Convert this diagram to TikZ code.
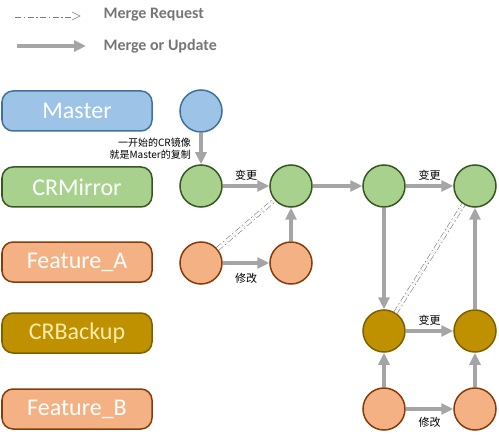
\documentclass[tikz,border=0pt]{standalone}
\usepackage{fontspec}
\setmainfont{Carlito}
\newfontfamily\cjk{Noto Sans CJK SC}
\usetikzlibrary{arrows.meta}
\definecolor{masterfill}{RGB}{157,195,230}
\definecolor{masterline}{RGB}{65,113,156}
\definecolor{mirrorfill}{RGB}{169,209,142}
\definecolor{mirrorline}{RGB}{56,87,35}
\definecolor{featfill}{RGB}{244,177,131}
\definecolor{featline}{RGB}{132,60,12}
\definecolor{backfill}{RGB}{191,144,0}
\definecolor{backline}{RGB}{127,96,0}
\definecolor{flowgray}{RGB}{165,165,165}
\definecolor{legendgray}{RGB}{118,118,118}
\tikzset{
branch/.style={draw, line width=1.5pt, rounded corners=11pt, minimum width=150pt,
  minimum height=40pt, font=\fontsize{24}{28}\selectfont},
commit/.style={circle, draw, line width=1.5pt, minimum size=42pt, inner sep=0pt},
flow/.style={draw=flowgray, line width=4pt, -{Triangle[length=12pt,width=11pt]}},
mreq/.style={draw={rgb,255:red,125;green,125;blue,125}, line width=0.6pt, double=white,
  double distance=3pt, dash pattern=on 6pt off 2.5pt on 1.5pt off 2.5pt},
tag/.style={font=\cjk\fontsize{11}{13}\selectfont},
legend/.style={anchor=west, text=legendgray, font=\bfseries\fontsize{16}{18}\selectfont}
}
\begin{document}
\begin{tikzpicture}[x=1pt, y=-1pt]
\useasboundingbox (0,0) rectangle (499,436);
% legend
\coordinate (lg1a) at (15,16);
\coordinate (lg1b) at (72,16);
\coordinate (lg2a) at (17,46);
\coordinate (lg2b) at (86,46);
\draw[mreq] (lg1a) -- (lg1b);
\draw[draw={rgb,255:red,125;green,125;blue,125}, line width=0.6pt] (72,12) -- (80,16) -- (72,20);
\draw[flow] (lg2a) -- (lg2b);
\node[legend] (lgt1) at (100,15) {Merge Request};
\node[legend] (lgt2) at (100,46) {Merge or Update};
% branches
\node[branch, fill=masterfill, draw=masterline, text=white] (master) at (77,111) {Master};
\node[branch, fill=mirrorfill, draw=mirrorline, text=white] (mirror) at (77,187) {CRMirror};
\node[branch, fill=featfill, draw=featline, text=white] (feata) at (77,262) {Feature\_A};
\node[branch, fill=backfill, draw=backline, text={rgb,255:red,255;green,236;blue,170}] (backup) at (77,333) {CRBackup};
\node[branch, fill=featfill, draw=featline, text=white] (featb) at (77,409) {Feature\_B};
% commits
\node[commit, fill=masterfill, draw=masterline] (m0) at (201,111) {};
\node[commit, fill=mirrorfill, draw=mirrorline] (c1) at (201,186) {};
\node[commit, fill=mirrorfill, draw=mirrorline] (c2) at (291,186) {};
\node[commit, fill=mirrorfill, draw=mirrorline] (c3) at (384,186) {};
\node[commit, fill=mirrorfill, draw=mirrorline] (c4) at (475,186) {};
\node[commit, fill=featfill, draw=featline] (a1) at (201,263) {};
\node[commit, fill=featfill, draw=featline] (a2) at (291,263) {};
\node[commit, fill=backfill, draw=backline] (k1) at (384,331) {};
\node[commit, fill=backfill, draw=backline] (k2) at (475,331) {};
\node[commit, fill=featfill, draw=featline] (b1) at (384,409) {};
\node[commit, fill=featfill, draw=featline] (b2) at (475,409) {};
% note
\node[font=\cjk\fontsize{10}{12}\selectfont, align=right, anchor=east, inner sep=0pt] (note) at (191,149)
  {一开始的CR镜像\\就是Master的复制};
% arrows
\draw[flow] (m0) -- (c1);
\draw[flow] (c1) -- node[tag, above] (t1) {变更} (c2);
\draw[flow] (c2) -- (c3);
\draw[flow] (c3) -- node[tag, above] (t2) {变更} (c4);
\draw[flow] (a1) -- node[tag, below=5pt] (t3) {修改} (a2);
\draw[flow] (a2) -- (c2);
\draw[flow] (c3) -- (k1);
\draw[flow] (k1) -- node[tag, above] (t4) {变更} (k2);
\draw[flow] (k2) -- (c4);
\draw[flow] (b1) -- (k1);
\draw[flow] (b2) -- (k2);
\draw[flow] (b1) -- node[tag, below=3pt] (t5) {修改} (b2);
\draw[mreq] (a1) -- (c2);
\draw[mreq] (k1) -- (c4);
\end{tikzpicture}
\end{document}
